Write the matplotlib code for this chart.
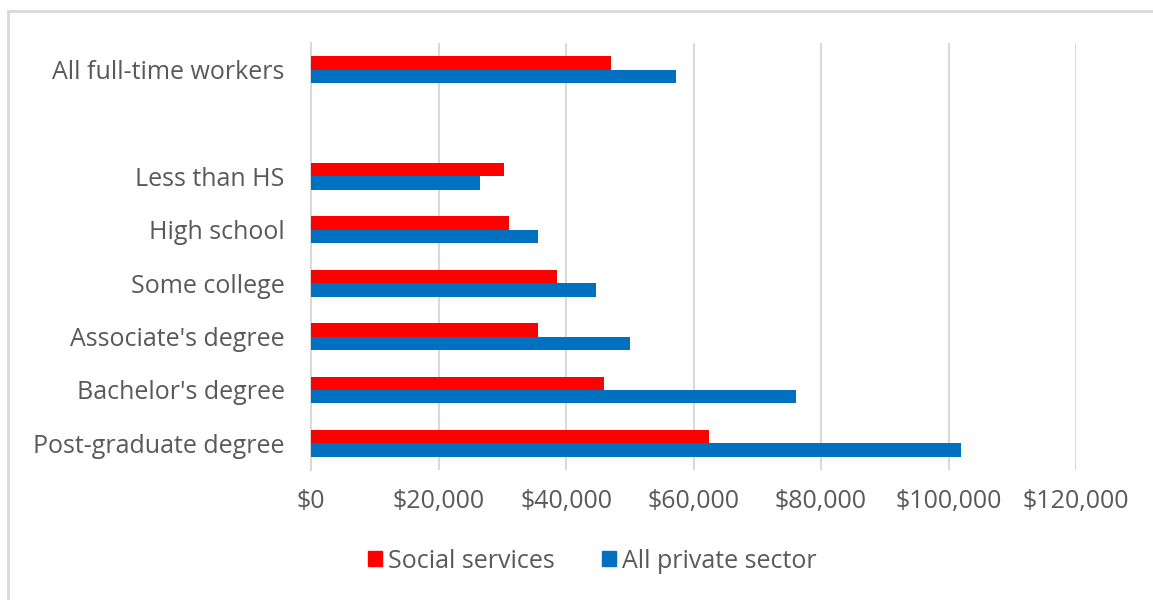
import matplotlib.pyplot as plt
import matplotlib.patches as mpatches
from matplotlib.lines import Line2D
from matplotlib.ticker import FuncFormatter
import numpy as np

# Data (blank entry = spacer row between total and education groups)
categories = ['All full-time workers', '', 'Less than HS', 'High school', 'Some college',
              "Associate's degree", "Bachelor's degree", 'Post-graduate degree']
social_services = [47000, np.nan, 30300, 31100, 38600, 35600, 45900, 62500]
all_private = [57300, np.nan, 26500, 35600, 44700, 50100, 76100, 102000]
series_names = ['Social services', 'All private sector']

red = '#FF0000'
blue = '#0070C0'
txt = '#595959'
grid = '#D9D9D9'

plt.rcParams['font.family'] = ['Open Sans', 'DejaVu Sans']

fig = plt.figure(figsize=(11.53, 6.0), dpi=100)
ax = fig.add_axes([311 / 1153, 1 - 470 / 600, (1076 - 311) / 1153, (470 - 43) / 600])

y = np.arange(len(categories))
h = 0.25
ax.barh(y - h / 2, social_services, height=h, color=red, zorder=3)
ax.barh(y + h / 2, all_private, height=h, color=blue, zorder=3)

ax.set_ylim(len(categories) - 0.5, -0.5)
ax.set_xlim(0, 120000)
ax.set_xticks(np.arange(0, 120001, 20000))
ax.xaxis.set_major_formatter(FuncFormatter(lambda v, p: f'${v:,.0f}'))
ax.set_yticks(y)
ax.set_yticklabels(categories)

ax.grid(axis='x', color=grid, lw=1.5, zorder=0)
for s in ['top', 'right', 'bottom']:
    ax.spines[s].set_visible(False)
ax.spines['left'].set_color(grid)
ax.spines['left'].set_linewidth(1.5)
ax.tick_params(axis='both', length=0, colors=txt, labelsize=18)
ax.tick_params(axis='x', pad=14)
ax.tick_params(axis='y', pad=19)

# Legend
handles = [mpatches.Patch(color=red, label=series_names[0]),
           mpatches.Patch(color=blue, label=series_names[1])]
leg = fig.legend(handles=handles, loc='center', bbox_to_anchor=(0.514, 1 - 561 / 600), ncol=2,
                 frameon=False, fontsize=18, handlelength=0.55, handleheight=0.55,
                 handletextpad=0.25, columnspacing=1.9)
for t in leg.get_texts():
    t.set_color(txt)

# Chart border (top and left visible)
fig.add_artist(Line2D([8 / 1153, 1], [1 - 11 / 600, 1 - 11 / 600], color='#D9D9D9', lw=2,
                      transform=fig.transFigure))
fig.add_artist(Line2D([8 / 1153, 8 / 1153], [0, 1 - 11 / 600], color='#D9D9D9', lw=2,
                      transform=fig.transFigure))

fig.savefig('out.png', dpi=100, facecolor='white')
